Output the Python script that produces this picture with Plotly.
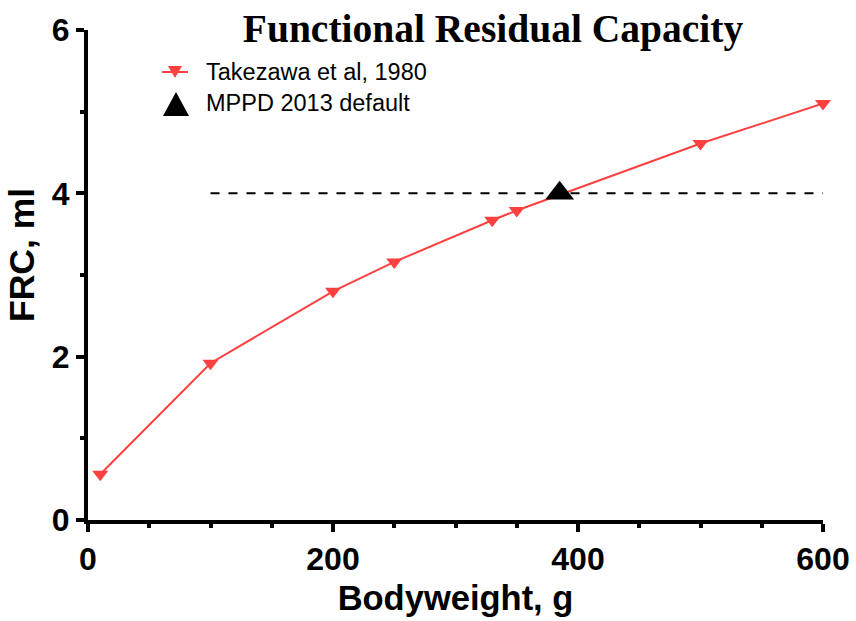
import plotly.graph_objects as go

# Data
bodyweight_g = [10, 100, 200, 250, 330, 350, 500, 600]
frc_ml = [0.56, 1.92, 2.80, 3.16, 3.67, 3.79, 4.61, 5.10]
mppd_bw = [385]
mppd_frc = [4.0]
ref_line_x = [100, 600]
ref_line_y = [4.0, 4.0]
legend_labels = ["Takezawa et al, 1980", "MPPD 2013 default"]

RED = "rgb(255,64,64)"
SANS = "Arial, Liberation Sans, sans-serif"
SERIF = "Times New Roman, Liberation Serif, serif"

W, H = 856, 621
left, right, top, bottom = 88, 823, 30, 520
pw, ph = right - left, bottom - top


def px(x):  # page pixel x -> paper x
    return (x - left) / pw


def py(y):  # page pixel y -> paper y
    return (bottom - y) / ph


fig = go.Figure()
fig.add_trace(go.Scatter(
    x=ref_line_x, y=ref_line_y, mode="lines",
    line=dict(color="black", width=2, dash="dash"),
    showlegend=False, hoverinfo="skip"))
fig.add_trace(go.Scatter(
    x=bodyweight_g, y=frc_ml, mode="lines+markers",
    name=legend_labels[0],
    line=dict(color=RED, width=2),
    marker=dict(symbol="triangle-down", size=14, color=RED),
    cliponaxis=False, showlegend=False))
fig.add_trace(go.Scatter(
    x=mppd_bw, y=mppd_frc, mode="markers",
    name=legend_labels[1],
    marker=dict(symbol="triangle-up", size=25, color="black"),
    cliponaxis=False, showlegend=False))

# hand-drawn legend (symbols in paper coordinates)
shapes = [
    dict(type="line", xref="paper", yref="paper",
         x0=px(162), x1=px(188), y0=py(72), y1=py(72),
         line=dict(color=RED, width=2)),
    dict(type="path", xref="paper", yref="paper",
         path=f"M {px(168)},{py(66)} L {px(182)},{py(66)} L {px(175)},{py(78)} Z",
         fillcolor=RED, line=dict(width=0)),
    dict(type="path", xref="paper", yref="paper",
         path=f"M {px(163)},{py(116)} L {px(189)},{py(116)} L {px(176)},{py(92)} Z",
         fillcolor="black", line=dict(width=0)),
]
annotations = [
    dict(text=legend_labels[0], x=px(204), y=py(72), xref="paper", yref="paper",
         xanchor="left", yanchor="middle", showarrow=False,
         font=dict(family=SANS, size=23.5, color="black")),
    dict(text=legend_labels[1], x=px(204), y=py(103), xref="paper", yref="paper",
         xanchor="left", yanchor="middle", showarrow=False,
         font=dict(family=SANS, size=23.5, color="black")),
    dict(text="FRC, ml", x=px(22), y=py(255), xref="paper", yref="paper",
         xanchor="center", yanchor="middle", showarrow=False, textangle=-90,
         borderpad=0,
         font=dict(family=SANS, size=35.5, color="black", weight="bold")),
]

axis_common = dict(
    showline=True, linewidth=4, linecolor="black",
    ticks="outside", ticklen=8, tickwidth=4, tickcolor="black",
    showgrid=False, zeroline=False,
    tickfont=dict(family=SANS, size=32, color="black", weight="bold"),
)

fig.update_layout(
    width=W, height=H,
    margin=dict(l=left, r=W - right, t=top, b=H - bottom),
    paper_bgcolor="white", plot_bgcolor="white",
    showlegend=False,
    shapes=shapes, annotations=annotations,
    title=dict(text="Functional Residual Capacity",
               font=dict(family=SERIF, size=39.5, color="black", weight="bold"),
               x=493 / W, xanchor="center", xref="container",
               y=1 - 28 / H, yanchor="middle", yref="container"),
    xaxis=dict(range=[0, 600], tickvals=[0, 200, 400, 600],
               minor=dict(dtick=50, ticks="outside", ticklen=4, tickwidth=4, tickcolor="black"),
               title=dict(text="Bodyweight, g", standoff=10,
                          font=dict(family=SANS, size=34.5, color="black", weight="bold")),
               automargin=False,
               **axis_common),
    yaxis=dict(range=[0, 6], tickvals=[0, 2, 4, 6],
               minor=dict(dtick=1, ticks="outside", ticklen=4, tickwidth=4, tickcolor="black"),
               automargin=False,
               **axis_common),
)

fig.write_html("out.html",
               config={"displayModeBar": False},
               post_script="document.body.style.margin='0';document.body.style.overflow='hidden';")
